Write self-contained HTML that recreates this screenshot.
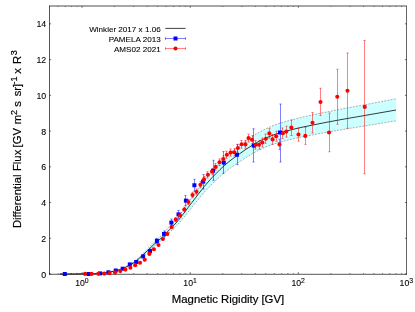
<!DOCTYPE html>
<html><head><meta charset="utf-8"><title>plot</title>
<style>html,body{margin:0;padding:0;background:#fff;}body{width:415px;height:312px;overflow:hidden;font-family:"Liberation Sans",sans-serif;}</style>
</head><body>
<svg width="415" height="312" viewBox="0 0 415 312" style="display:block">
<rect width="415" height="312" fill="#fff"/>
<defs><filter id="bg" x="0" y="0" width="415" height="312" filterUnits="userSpaceOnUse"><feGaussianBlur stdDeviation="0.22"/></filter><filter id="bt" x="0" y="0" width="415" height="312" filterUnits="userSpaceOnUse"><feGaussianBlur stdDeviation="0.15"/></filter></defs>
<g filter="url(#bg)">
<path d="M60.0,274.0 L62.0,274.0 L64.0,274.0 L66.0,274.0 L68.0,274.0 L70.0,274.0 L72.0,274.0 L74.0,274.0 L76.0,273.9 L78.0,273.9 L80.0,273.9 L82.0,273.9 L84.0,273.9 L86.0,273.9 L88.0,273.8 L90.0,273.8 L92.0,273.7 L94.0,273.6 L96.0,273.5 L98.0,273.4 L100.0,273.3 L102.0,273.1 L104.0,272.8 L106.0,272.5 L108.0,272.2 L110.0,271.9 L112.0,271.5 L114.0,271.0 L116.0,270.5 L118.0,269.9 L120.0,269.2 L122.0,268.4 L124.0,267.6 L126.0,266.6 L128.0,265.4 L130.0,264.3 L132.0,263.1 L134.0,261.8 L136.0,260.3 L138.0,258.4 L140.0,256.4 L142.0,254.5 L144.0,252.5 L146.0,250.5 L148.0,248.5 L150.0,246.4 L152.0,244.4 L154.0,242.4 L156.0,240.5 L158.0,238.6 L160.0,236.8 L162.0,235.0 L164.0,232.9 L166.0,230.6 L168.0,228.3 L170.0,226.1 L172.0,224.0 L174.0,221.8 L176.0,219.6 L178.0,217.1 L180.0,214.5 L182.0,211.8 L184.0,208.9 L186.0,206.0 L188.0,203.1 L190.0,200.3 L192.0,197.5 L194.0,194.7 L196.0,191.9 L198.0,189.2 L200.0,186.4 L202.0,183.7 L204.0,180.9 L206.0,178.3 L208.0,175.8 L210.0,173.5 L212.0,171.2 L214.0,169.0 L216.0,166.8 L218.0,164.7 L220.0,162.5 L222.0,160.5 L224.0,158.5 L226.0,156.6 L228.0,154.8 L230.0,153.1 L232.0,151.5 L234.0,149.9 L236.0,148.4 L238.0,146.8 L240.0,145.3 L242.0,143.8 L244.0,142.3 L246.0,140.9 L248.0,139.4 L250.0,138.0 L252.0,136.7 L254.0,135.4 L256.0,134.1 L258.0,132.9 L260.0,131.7 L262.0,130.7 L264.0,129.7 L266.0,128.7 L268.0,127.8 L270.0,126.9 L272.0,126.1 L274.0,125.4 L276.0,124.6 L278.0,123.9 L280.0,123.2 L282.0,122.6 L284.0,122.0 L286.0,121.4 L288.0,120.9 L290.0,120.3 L292.0,119.8 L294.0,119.3 L296.0,118.8 L298.0,118.2 L300.0,117.8 L302.0,117.3 L304.0,116.8 L306.0,116.4 L308.0,115.9 L310.0,115.5 L312.0,115.1 L314.0,114.6 L316.0,114.2 L318.0,113.8 L320.0,113.4 L322.0,112.9 L324.0,112.5 L326.0,112.1 L328.0,111.7 L330.0,111.3 L332.0,110.9 L334.0,110.5 L336.0,110.1 L338.0,109.7 L340.0,109.3 L342.0,108.9 L344.0,108.5 L346.0,108.2 L348.0,107.8 L350.0,107.4 L352.0,107.1 L354.0,106.7 L356.0,106.3 L358.0,106.0 L360.0,105.6 L362.0,105.2 L364.0,104.9 L366.0,104.5 L368.0,104.1 L370.0,103.8 L372.0,103.4 L374.0,103.0 L376.0,102.6 L378.0,102.3 L380.0,101.9 L382.0,101.5 L384.0,101.1 L386.0,100.7 L388.0,100.4 L390.0,100.0 L392.0,99.6 L394.0,99.2 L396.0,98.8 L396.0,120.8 L394.0,121.2 L392.0,121.5 L390.0,121.8 L388.0,122.2 L386.0,122.5 L384.0,122.8 L382.0,123.1 L380.0,123.5 L378.0,123.8 L376.0,124.1 L374.0,124.5 L372.0,124.8 L370.0,125.1 L368.0,125.4 L366.0,125.8 L364.0,126.1 L362.0,126.4 L360.0,126.7 L358.0,127.0 L356.0,127.4 L354.0,127.7 L352.0,128.0 L350.0,128.3 L348.0,128.6 L346.0,129.0 L344.0,129.3 L342.0,129.6 L340.0,130.0 L338.0,130.3 L336.0,130.7 L334.0,131.0 L332.0,131.4 L330.0,131.7 L328.0,132.1 L326.0,132.4 L324.0,132.8 L322.0,133.2 L320.0,133.5 L318.0,133.9 L316.0,134.3 L314.0,134.6 L312.0,135.0 L310.0,135.4 L308.0,135.8 L306.0,136.2 L304.0,136.5 L302.0,136.9 L300.0,137.4 L298.0,137.8 L296.0,138.2 L294.0,138.7 L292.0,139.1 L290.0,139.6 L288.0,140.1 L286.0,140.6 L284.0,141.0 L282.0,141.6 L280.0,142.1 L278.0,142.7 L276.0,143.4 L274.0,144.0 L272.0,144.7 L270.0,145.4 L268.0,146.1 L266.0,146.9 L264.0,147.8 L262.0,148.7 L260.0,149.6 L258.0,150.6 L256.0,151.6 L254.0,152.8 L252.0,153.9 L250.0,155.1 L248.0,156.3 L246.0,157.6 L244.0,158.8 L242.0,160.1 L240.0,161.5 L238.0,162.8 L236.0,164.1 L234.0,165.5 L232.0,166.8 L230.0,168.3 L228.0,169.7 L226.0,171.3 L224.0,173.0 L222.0,174.7 L220.0,176.5 L218.0,178.4 L216.0,180.3 L214.0,182.2 L212.0,184.1 L210.0,186.1 L208.0,188.1 L206.0,190.3 L204.0,192.6 L202.0,195.0 L200.0,197.4 L198.0,199.8 L196.0,202.2 L194.0,204.7 L192.0,207.1 L190.0,209.5 L188.0,212.0 L186.0,214.6 L184.0,217.1 L182.0,219.6 L180.0,222.0 L178.0,224.2 L176.0,226.4 L174.0,228.3 L172.0,230.2 L170.0,232.1 L168.0,234.0 L166.0,236.0 L164.0,238.0 L162.0,239.9 L160.0,241.5 L158.0,243.0 L156.0,244.7 L154.0,246.4 L152.0,248.1 L150.0,249.9 L148.0,251.7 L146.0,253.4 L144.0,255.2 L142.0,256.9 L140.0,258.6 L138.0,260.3 L136.0,262.0 L134.0,263.3 L132.0,264.4 L130.0,265.5 L128.0,266.5 L126.0,267.5 L124.0,268.4 L122.0,269.1 L120.0,269.8 L118.0,270.4 L116.0,270.9 L114.0,271.4 L112.0,271.8 L110.0,272.2 L108.0,272.5 L106.0,272.7 L104.0,273.0 L102.0,273.2 L100.0,273.3 L98.0,273.5 L96.0,273.6 L94.0,273.7 L92.0,273.8 L90.0,273.8 L88.0,273.8 L86.0,273.9 L84.0,273.9 L82.0,273.9 L80.0,273.9 L78.0,273.9 L76.0,273.9 L74.0,274.0 L72.0,274.0 L70.0,274.0 L68.0,274.0 L66.0,274.0 L64.0,274.0 L62.0,274.0 L60.0,274.0Z" fill="#ccffff" stroke="none"/>
<path d="M60.0,274.0 L62.0,274.0 L64.0,274.0 L66.0,274.0 L68.0,274.0 L70.0,274.0 L72.0,274.0 L74.0,274.0 L76.0,273.9 L78.0,273.9 L80.0,273.9 L82.0,273.9 L84.0,273.9 L86.0,273.9 L88.0,273.8 L90.0,273.8 L92.0,273.7 L94.0,273.6 L96.0,273.5 L98.0,273.4 L100.0,273.3 L102.0,273.1 L104.0,272.8 L106.0,272.5 L108.0,272.2 L110.0,271.9 L112.0,271.5 L114.0,271.0 L116.0,270.5 L118.0,269.9 L120.0,269.2 L122.0,268.4 L124.0,267.6 L126.0,266.6 L128.0,265.4 L130.0,264.3 L132.0,263.1 L134.0,261.8 L136.0,260.3 L138.0,258.4 L140.0,256.4 L142.0,254.5 L144.0,252.5 L146.0,250.5 L148.0,248.5 L150.0,246.4 L152.0,244.4 L154.0,242.4 L156.0,240.5 L158.0,238.6 L160.0,236.8 L162.0,235.0 L164.0,232.9 L166.0,230.6 L168.0,228.3 L170.0,226.1 L172.0,224.0 L174.0,221.8 L176.0,219.6 L178.0,217.1 L180.0,214.5 L182.0,211.8 L184.0,208.9 L186.0,206.0 L188.0,203.1 L190.0,200.3 L192.0,197.5 L194.0,194.7 L196.0,191.9 L198.0,189.2 L200.0,186.4 L202.0,183.7 L204.0,180.9 L206.0,178.3 L208.0,175.8 L210.0,173.5 L212.0,171.2 L214.0,169.0 L216.0,166.8 L218.0,164.7 L220.0,162.5 L222.0,160.5 L224.0,158.5 L226.0,156.6 L228.0,154.8 L230.0,153.1 L232.0,151.5 L234.0,149.9 L236.0,148.4 L238.0,146.8 L240.0,145.3 L242.0,143.8 L244.0,142.3 L246.0,140.9 L248.0,139.4 L250.0,138.0 L252.0,136.7 L254.0,135.4 L256.0,134.1 L258.0,132.9 L260.0,131.7 L262.0,130.7 L264.0,129.7 L266.0,128.7 L268.0,127.8 L270.0,126.9 L272.0,126.1 L274.0,125.4 L276.0,124.6 L278.0,123.9 L280.0,123.2 L282.0,122.6 L284.0,122.0 L286.0,121.4 L288.0,120.9 L290.0,120.3 L292.0,119.8 L294.0,119.3 L296.0,118.8 L298.0,118.2 L300.0,117.8 L302.0,117.3 L304.0,116.8 L306.0,116.4 L308.0,115.9 L310.0,115.5 L312.0,115.1 L314.0,114.6 L316.0,114.2 L318.0,113.8 L320.0,113.4 L322.0,112.9 L324.0,112.5 L326.0,112.1 L328.0,111.7 L330.0,111.3 L332.0,110.9 L334.0,110.5 L336.0,110.1 L338.0,109.7 L340.0,109.3 L342.0,108.9 L344.0,108.5 L346.0,108.2 L348.0,107.8 L350.0,107.4 L352.0,107.1 L354.0,106.7 L356.0,106.3 L358.0,106.0 L360.0,105.6 L362.0,105.2 L364.0,104.9 L366.0,104.5 L368.0,104.1 L370.0,103.8 L372.0,103.4 L374.0,103.0 L376.0,102.6 L378.0,102.3 L380.0,101.9 L382.0,101.5 L384.0,101.1 L386.0,100.7 L388.0,100.4 L390.0,100.0 L392.0,99.6 L394.0,99.2 L396.0,98.8" fill="none" stroke="#6a6a6a" stroke-width="0.55" stroke-dasharray="1.9,1.3"/>
<path d="M60.0,274.0 L62.0,274.0 L64.0,274.0 L66.0,274.0 L68.0,274.0 L70.0,274.0 L72.0,274.0 L74.0,274.0 L76.0,273.9 L78.0,273.9 L80.0,273.9 L82.0,273.9 L84.0,273.9 L86.0,273.9 L88.0,273.8 L90.0,273.8 L92.0,273.8 L94.0,273.7 L96.0,273.6 L98.0,273.5 L100.0,273.3 L102.0,273.2 L104.0,273.0 L106.0,272.7 L108.0,272.5 L110.0,272.2 L112.0,271.8 L114.0,271.4 L116.0,270.9 L118.0,270.4 L120.0,269.8 L122.0,269.1 L124.0,268.4 L126.0,267.5 L128.0,266.5 L130.0,265.5 L132.0,264.4 L134.0,263.3 L136.0,262.0 L138.0,260.3 L140.0,258.6 L142.0,256.9 L144.0,255.2 L146.0,253.4 L148.0,251.7 L150.0,249.9 L152.0,248.1 L154.0,246.4 L156.0,244.7 L158.0,243.0 L160.0,241.5 L162.0,239.9 L164.0,238.0 L166.0,236.0 L168.0,234.0 L170.0,232.1 L172.0,230.2 L174.0,228.3 L176.0,226.4 L178.0,224.2 L180.0,222.0 L182.0,219.6 L184.0,217.1 L186.0,214.6 L188.0,212.0 L190.0,209.5 L192.0,207.1 L194.0,204.7 L196.0,202.2 L198.0,199.8 L200.0,197.4 L202.0,195.0 L204.0,192.6 L206.0,190.3 L208.0,188.1 L210.0,186.1 L212.0,184.1 L214.0,182.2 L216.0,180.3 L218.0,178.4 L220.0,176.5 L222.0,174.7 L224.0,173.0 L226.0,171.3 L228.0,169.7 L230.0,168.3 L232.0,166.8 L234.0,165.5 L236.0,164.1 L238.0,162.8 L240.0,161.5 L242.0,160.1 L244.0,158.8 L246.0,157.6 L248.0,156.3 L250.0,155.1 L252.0,153.9 L254.0,152.8 L256.0,151.6 L258.0,150.6 L260.0,149.6 L262.0,148.7 L264.0,147.8 L266.0,146.9 L268.0,146.1 L270.0,145.4 L272.0,144.7 L274.0,144.0 L276.0,143.4 L278.0,142.7 L280.0,142.1 L282.0,141.6 L284.0,141.0 L286.0,140.6 L288.0,140.1 L290.0,139.6 L292.0,139.1 L294.0,138.7 L296.0,138.2 L298.0,137.8 L300.0,137.4 L302.0,136.9 L304.0,136.5 L306.0,136.2 L308.0,135.8 L310.0,135.4 L312.0,135.0 L314.0,134.6 L316.0,134.3 L318.0,133.9 L320.0,133.5 L322.0,133.2 L324.0,132.8 L326.0,132.4 L328.0,132.1 L330.0,131.7 L332.0,131.4 L334.0,131.0 L336.0,130.7 L338.0,130.3 L340.0,130.0 L342.0,129.6 L344.0,129.3 L346.0,129.0 L348.0,128.6 L350.0,128.3 L352.0,128.0 L354.0,127.7 L356.0,127.4 L358.0,127.0 L360.0,126.7 L362.0,126.4 L364.0,126.1 L366.0,125.8 L368.0,125.4 L370.0,125.1 L372.0,124.8 L374.0,124.5 L376.0,124.1 L378.0,123.8 L380.0,123.5 L382.0,123.1 L384.0,122.8 L386.0,122.5 L388.0,122.2 L390.0,121.8 L392.0,121.5 L394.0,121.2 L396.0,120.8" fill="none" stroke="#6a6a6a" stroke-width="0.55" stroke-dasharray="1.9,1.3"/>
<path d="M396,98.8 L396,120.8" fill="none" stroke="#ccffff" stroke-width="0.5"/>
<path d="M49.5,5.6V274.7 M49.1,274.3H406.9" fill="none" stroke="#2a2a2a" stroke-width="0.8"/>
<path d="M49.5,6.0H406.9" fill="none" stroke="#333" stroke-width="0.85"/>
<path d="M406.5,6.0V274.7" fill="none" stroke="#4a4a4a" stroke-width="0.85"/>
<path d="M49.5,274.00h1.6 M406.5,274.00h-1.6 M49.5,238.27h1.6 M406.5,238.27h-1.6 M49.5,202.53h1.6 M406.5,202.53h-1.6 M49.5,166.80h1.6 M406.5,166.80h-1.6 M49.5,131.07h1.6 M406.5,131.07h-1.6 M49.5,95.33h1.6 M406.5,95.33h-1.6 M49.5,59.60h1.6 M406.5,59.60h-1.6 M49.5,23.87h1.6 M406.5,23.87h-1.6 M49.50,274.0v-0.8 M49.50,6.0v0.8 M58.06,274.0v-0.8 M58.06,6.0v0.8 M65.30,274.0v-0.8 M65.30,6.0v0.8 M71.58,274.0v-0.8 M71.58,6.0v0.8 M77.11,274.0v-0.8 M77.11,6.0v0.8 M82.06,274.0v-1.8 M82.06,6.0v1.8 M114.61,274.0v-0.8 M114.61,6.0v0.8 M133.66,274.0v-0.8 M133.66,6.0v0.8 M147.17,274.0v-0.8 M147.17,6.0v0.8 M157.65,274.0v-0.8 M157.65,6.0v0.8 M166.21,274.0v-0.8 M166.21,6.0v0.8 M173.45,274.0v-0.8 M173.45,6.0v0.8 M179.72,274.0v-0.8 M179.72,6.0v0.8 M185.26,274.0v-0.8 M185.26,6.0v0.8 M190.20,274.0v-1.8 M190.20,6.0v1.8 M222.76,274.0v-0.8 M222.76,6.0v0.8 M241.80,274.0v-0.8 M241.80,6.0v0.8 M255.32,274.0v-0.8 M255.32,6.0v0.8 M265.80,274.0v-0.8 M265.80,6.0v0.8 M274.36,274.0v-0.8 M274.36,6.0v0.8 M281.60,274.0v-0.8 M281.60,6.0v0.8 M287.87,274.0v-0.8 M287.87,6.0v0.8 M293.40,274.0v-0.8 M293.40,6.0v0.8 M298.35,274.0v-1.8 M298.35,6.0v1.8 M330.91,274.0v-0.8 M330.91,6.0v0.8 M349.95,274.0v-0.8 M349.95,6.0v0.8 M363.46,274.0v-0.8 M363.46,6.0v0.8 M373.94,274.0v-0.8 M373.94,6.0v0.8 M382.51,274.0v-0.8 M382.51,6.0v0.8 M389.75,274.0v-0.8 M389.75,6.0v0.8 M396.02,274.0v-0.8 M396.02,6.0v0.8 M401.55,274.0v-0.8 M401.55,6.0v0.8" stroke="#000" stroke-width="0.55" fill="none"/>
<path d="M60.0,274.0 L62.0,274.0 L64.0,274.0 L66.0,274.0 L68.0,274.0 L70.0,274.0 L72.0,274.0 L74.0,274.0 L76.0,273.9 L78.0,273.9 L80.0,273.9 L82.0,273.9 L84.0,273.9 L86.0,273.9 L88.0,273.8 L90.0,273.8 L92.0,273.7 L94.0,273.7 L96.0,273.6 L98.0,273.4 L100.0,273.3 L102.0,273.1 L104.0,272.9 L106.0,272.6 L108.0,272.3 L110.0,272.0 L112.0,271.6 L114.0,271.2 L116.0,270.7 L118.0,270.2 L120.0,269.5 L122.0,268.8 L124.0,268.0 L126.0,267.0 L128.0,266.0 L130.0,264.9 L132.0,263.8 L134.0,262.5 L136.0,261.2 L138.0,259.4 L140.0,257.5 L142.0,255.7 L144.0,253.9 L146.0,252.0 L148.0,250.1 L150.0,248.2 L152.0,246.3 L154.0,244.4 L156.0,242.6 L158.0,240.8 L160.0,239.2 L162.0,237.4 L164.0,235.5 L166.0,233.3 L168.0,231.2 L170.0,229.2 L172.0,227.1 L174.0,225.1 L176.0,223.0 L178.0,220.7 L180.0,218.3 L182.0,215.7 L184.0,213.1 L186.0,210.3 L188.0,207.6 L190.0,205.0 L192.0,202.4 L194.0,199.8 L196.0,197.2 L198.0,194.6 L200.0,192.0 L202.0,189.4 L204.0,186.8 L206.0,184.4 L208.0,182.1 L210.0,179.9 L212.0,177.7 L214.0,175.7 L216.0,173.6 L218.0,171.6 L220.0,169.6 L222.0,167.7 L224.0,165.8 L226.0,164.1 L228.0,162.4 L230.0,160.8 L232.0,159.3 L234.0,157.8 L236.0,156.4 L238.0,154.9 L240.0,153.5 L242.0,152.1 L244.0,150.7 L246.0,149.3 L248.0,148.0 L250.0,146.7 L252.0,145.4 L254.0,144.2 L256.0,143.0 L258.0,141.9 L260.0,140.8 L262.0,139.8 L264.0,138.9 L266.0,138.0 L268.0,137.1 L270.0,136.3 L272.0,135.5 L274.0,134.8 L276.0,134.1 L278.0,133.4 L280.0,132.8 L282.0,132.2 L284.0,131.7 L286.0,131.1 L288.0,130.6 L290.0,130.1 L292.0,129.6 L294.0,129.1 L296.0,128.6 L298.0,128.2 L300.0,127.7 L302.0,127.3 L304.0,126.8 L306.0,126.4 L308.0,126.0 L310.0,125.6 L312.0,125.2 L314.0,124.8 L316.0,124.4 L318.0,124.0 L320.0,123.6 L322.0,123.2 L324.0,122.8 L326.0,122.4 L328.0,122.0 L330.0,121.7 L332.0,121.3 L334.0,120.9 L336.0,120.5 L338.0,120.2 L340.0,119.8 L342.0,119.4 L344.0,119.1 L346.0,118.7 L348.0,118.4 L350.0,118.0 L352.0,117.7 L354.0,117.3 L356.0,117.0 L358.0,116.7 L360.0,116.3 L362.0,116.0 L364.0,115.6 L366.0,115.3 L368.0,114.9 L370.0,114.6 L372.0,114.2 L374.0,113.9 L376.0,113.5 L378.0,113.2 L380.0,112.8 L382.0,112.5 L384.0,112.1 L386.0,111.8 L388.0,111.4 L390.0,111.1 L392.0,110.7 L394.0,110.4 L396.0,110.0" fill="none" stroke="#0a0a0a" stroke-width="0.8"/>
<path d="M122.5,267.70V269.70 M121.4,267.70h2.2 M121.4,269.70h2.2 M129.5,263.40V265.40 M128.4,263.40h2.2 M128.4,265.40h2.2 M136.5,260.70V263.10 M135.4,260.70h2.2 M135.4,263.10h2.2 M143.5,254.90V257.90 M142.4,254.90h2.2 M142.4,257.90h2.2 M150.5,249.10V253.10 M149.4,249.10h2.2 M149.4,253.10h2.2 M156.5,238.40V243.40 M155.4,238.40h2.2 M155.4,243.40h2.2 M164.5,230.90V236.90 M163.4,230.90h2.2 M163.4,236.90h2.2 M171.5,219.10V226.10 M170.4,219.10h2.2 M170.4,226.10h2.2 M178.5,210.40V218.40 M177.4,210.40h2.2 M177.4,218.40h2.2 M185.5,195.60V205.60 M184.4,195.60h2.2 M184.4,205.60h2.2 M194.5,179.25V191.25 M193.4,179.25h2.2 M193.4,191.25h2.2 M203.5,174.60V189.10 M202.4,174.60h2.2 M202.4,189.10h2.2 M213.5,160.30V180.30 M212.4,160.30h2.2 M212.4,180.30h2.2 M223.5,151.60V173.30 M222.4,151.60h2.2 M222.4,173.30h2.2 M237.5,144.55V164.55 M236.4,144.55h2.2 M236.4,164.55h2.2 M253.5,128.80V162.00 M252.4,128.80h2.2 M252.4,162.00h2.2 M280.5,104.00V162.00 M279.4,104.00h2.2 M279.4,162.00h2.2" stroke="#0000ff" stroke-width="0.5" fill="none"/>
<path d="M167.5,232.40V235.60 M166.4,232.40h2.2 M166.4,235.60h2.2 M171.5,225.21V228.79 M170.4,225.21h2.2 M170.4,228.79h2.2 M175.5,217.64V221.56 M174.4,217.64h2.2 M174.4,221.56h2.2 M180.5,213.11V217.39 M179.4,213.11h2.2 M179.4,217.39h2.2 M184.5,207.17V211.83 M183.4,207.17h2.2 M183.4,211.83h2.2 M188.5,199.50V204.50 M187.4,199.50h2.2 M187.4,204.50h2.2 M192.5,192.32V197.68 M191.4,192.32h2.2 M191.4,197.68h2.2 M196.5,188.95V194.65 M195.4,188.95h2.2 M195.4,194.65h2.2 M200.5,181.69V187.71 M199.4,181.69h2.2 M199.4,187.71h2.2 M204.5,176.32V182.48 M203.4,176.32h2.2 M203.4,182.48h2.2 M207.5,171.64V177.96 M206.4,171.64h2.2 M206.4,177.96h2.2 M212.5,168.36V174.84 M211.4,168.36h2.2 M211.4,174.84h2.2 M215.5,163.59V170.22 M214.4,163.59h2.2 M214.4,170.22h2.2 M219.5,158.86V165.64 M218.4,158.86h2.2 M218.4,165.64h2.2 M223.5,155.63V162.56 M222.4,155.63h2.2 M222.4,162.56h2.2 M226.5,151.21V158.29 M225.4,151.21h2.2 M225.4,158.29h2.2 M230.5,148.99V156.21 M229.4,148.99h2.2 M229.4,156.21h2.2 M234.5,148.57V155.93 M233.4,148.57h2.2 M233.4,155.93h2.2 M237.5,144.24V151.76 M236.4,144.24h2.2 M236.4,151.76h2.2 M241.5,140.47V148.13 M240.4,140.47h2.2 M240.4,148.13h2.2 M245.5,140.49V148.31 M244.4,140.49h2.2 M244.4,148.31h2.2 M248.5,134.13V142.07 M247.4,134.13h2.2 M247.4,142.07h2.2 M252.5,135.67V143.83 M251.4,135.67h2.2 M251.4,143.83h2.2 M255.5,140.56V149.04 M254.4,140.56h2.2 M254.4,149.04h2.2 M259.5,140.44V149.16 M258.4,140.44h2.2 M258.4,149.16h2.2 M262.5,138.00V147.00 M261.4,138.00h2.2 M261.4,147.00h2.2 M265.5,134.06V143.34 M264.4,134.06h2.2 M264.4,143.34h2.2 M269.5,128.62V138.18 M268.4,128.62h2.2 M268.4,138.18h2.2 M272.5,134.48V144.32 M271.4,134.48h2.2 M271.4,144.32h2.2 M276.5,131.14V141.26 M275.4,131.14h2.2 M275.4,141.26h2.2 M279.5,139.20V149.60 M278.4,139.20h2.2 M278.4,149.60h2.2 M282.5,127.97V138.63 M281.4,127.97h2.2 M281.4,138.63h2.2 M286.5,126.13V137.07 M285.4,126.13h2.2 M285.4,137.07h2.2 M291.5,120.00V135.50 M290.4,120.00h2.2 M290.4,135.50h2.2 M298.5,128.00V141.25 M297.4,128.00h2.2 M297.4,141.25h2.2 M305.5,127.50V144.40 M304.4,127.50h2.2 M304.4,144.40h2.2 M312.5,112.50V133.00 M311.4,112.50h2.2 M311.4,133.00h2.2 M320.5,88.25V115.60 M319.4,88.25h2.2 M319.4,115.60h2.2 M329.5,113.00V151.75 M328.4,113.00h2.2 M328.4,151.75h2.2 M337.5,69.25V124.25 M336.4,69.25h2.2 M336.4,124.25h2.2 M347.5,53.00V128.40 M346.4,53.00h2.2 M346.4,128.40h2.2 M364.5,40.50V173.75 M363.4,40.50h2.2 M363.4,173.75h2.2" stroke="#ff0000" stroke-width="0.5" fill="none"/>
<rect x="62.75" y="272.00" width="4" height="4" fill="#0000ff"/>
<rect x="86.50" y="272.00" width="4" height="4" fill="#0000ff"/>
<rect x="98.00" y="271.40" width="4" height="4" fill="#0000ff"/>
<rect x="106.40" y="270.30" width="4" height="4" fill="#0000ff"/>
<rect x="113.75" y="268.50" width="4" height="4" fill="#0000ff"/>
<rect x="120.70" y="266.70" width="4" height="4" fill="#0000ff"/>
<rect x="127.80" y="262.40" width="4" height="4" fill="#0000ff"/>
<rect x="134.25" y="259.90" width="4" height="4" fill="#0000ff"/>
<rect x="141.15" y="254.40" width="4" height="4" fill="#0000ff"/>
<rect x="148.00" y="249.10" width="4" height="4" fill="#0000ff"/>
<rect x="154.90" y="238.90" width="4" height="4" fill="#0000ff"/>
<rect x="162.05" y="231.90" width="4" height="4" fill="#0000ff"/>
<rect x="169.35" y="220.60" width="4" height="4" fill="#0000ff"/>
<rect x="176.50" y="212.40" width="4" height="4" fill="#0000ff"/>
<rect x="183.90" y="198.60" width="4" height="4" fill="#0000ff"/>
<rect x="192.40" y="183.25" width="4" height="4" fill="#0000ff"/>
<rect x="201.10" y="179.60" width="4" height="4" fill="#0000ff"/>
<rect x="211.00" y="168.80" width="4" height="4" fill="#0000ff"/>
<rect x="221.75" y="160.60" width="4" height="4" fill="#0000ff"/>
<rect x="235.00" y="152.75" width="4" height="4" fill="#0000ff"/>
<rect x="251.75" y="143.60" width="4" height="4" fill="#0000ff"/>
<rect x="278.00" y="130.50" width="4" height="4" fill="#0000ff"/>
<circle cx="85" cy="273.9" r="2.05" fill="#ff0000"/>
<circle cx="91.6" cy="273.9" r="2.05" fill="#ff0000"/>
<circle cx="98.25" cy="273.8" r="2.05" fill="#ff0000"/>
<circle cx="104.2" cy="273.6" r="2.05" fill="#ff0000"/>
<circle cx="109.6" cy="273.1" r="2.05" fill="#ff0000"/>
<circle cx="115" cy="272.4" r="2.05" fill="#ff0000"/>
<circle cx="120.3" cy="271.1" r="2.05" fill="#ff0000"/>
<circle cx="125.4" cy="269.6" r="2.05" fill="#ff0000"/>
<circle cx="130.4" cy="267.8" r="2.05" fill="#ff0000"/>
<circle cx="135.2" cy="265.3" r="2.05" fill="#ff0000"/>
<circle cx="140" cy="262.8" r="2.05" fill="#ff0000"/>
<circle cx="144.75" cy="259.75" r="2.05" fill="#ff0000"/>
<circle cx="149.35" cy="253.9" r="2.05" fill="#ff0000"/>
<circle cx="153.95" cy="249.3" r="2.05" fill="#ff0000"/>
<circle cx="158.5" cy="245" r="2.05" fill="#ff0000"/>
<circle cx="162.9" cy="239" r="2.05" fill="#ff0000"/>
<circle cx="167.25" cy="234" r="2.05" fill="#ff0000"/>
<circle cx="171.7" cy="227" r="2.05" fill="#ff0000"/>
<circle cx="175.8" cy="219.6" r="2.05" fill="#ff0000"/>
<circle cx="180" cy="215.25" r="2.05" fill="#ff0000"/>
<circle cx="184.3" cy="209.5" r="2.05" fill="#ff0000"/>
<circle cx="188.4" cy="202" r="2.05" fill="#ff0000"/>
<circle cx="192.5" cy="195" r="2.05" fill="#ff0000"/>
<circle cx="196.5" cy="191.8" r="2.05" fill="#ff0000"/>
<circle cx="200.4" cy="184.7" r="2.05" fill="#ff0000"/>
<circle cx="204" cy="179.4" r="2.05" fill="#ff0000"/>
<circle cx="207.9" cy="174.8" r="2.05" fill="#ff0000"/>
<circle cx="212" cy="171.6" r="2.05" fill="#ff0000"/>
<circle cx="215.75" cy="166.9" r="2.05" fill="#ff0000"/>
<circle cx="219.5" cy="162.25" r="2.05" fill="#ff0000"/>
<circle cx="223.25" cy="159.1" r="2.05" fill="#ff0000"/>
<circle cx="226.9" cy="154.75" r="2.05" fill="#ff0000"/>
<circle cx="230.6" cy="152.6" r="2.05" fill="#ff0000"/>
<circle cx="234.1" cy="152.25" r="2.05" fill="#ff0000"/>
<circle cx="237.9" cy="148" r="2.05" fill="#ff0000"/>
<circle cx="241.6" cy="144.3" r="2.05" fill="#ff0000"/>
<circle cx="245.4" cy="144.4" r="2.05" fill="#ff0000"/>
<circle cx="248.5" cy="138.1" r="2.05" fill="#ff0000"/>
<circle cx="252" cy="139.75" r="2.05" fill="#ff0000"/>
<circle cx="255.8" cy="144.8" r="2.05" fill="#ff0000"/>
<circle cx="259" cy="144.8" r="2.05" fill="#ff0000"/>
<circle cx="262.25" cy="142.5" r="2.05" fill="#ff0000"/>
<circle cx="265.9" cy="138.7" r="2.05" fill="#ff0000"/>
<circle cx="269.3" cy="133.4" r="2.05" fill="#ff0000"/>
<circle cx="272.6" cy="139.4" r="2.05" fill="#ff0000"/>
<circle cx="276.15" cy="136.2" r="2.05" fill="#ff0000"/>
<circle cx="279.5" cy="144.4" r="2.05" fill="#ff0000"/>
<circle cx="282.9" cy="133.3" r="2.05" fill="#ff0000"/>
<circle cx="286.3" cy="131.6" r="2.05" fill="#ff0000"/>
<circle cx="291.35" cy="127.45" r="2.05" fill="#ff0000"/>
<circle cx="298.45" cy="134.55" r="2.05" fill="#ff0000"/>
<circle cx="305.3" cy="135.9" r="2.05" fill="#ff0000"/>
<circle cx="312.5" cy="122.75" r="2.05" fill="#ff0000"/>
<circle cx="320.5" cy="102" r="2.05" fill="#ff0000"/>
<circle cx="329" cy="132.5" r="2.05" fill="#ff0000"/>
<circle cx="337.25" cy="96.75" r="2.05" fill="#ff0000"/>
<circle cx="347.5" cy="90.75" r="2.05" fill="#ff0000"/>
<circle cx="364.75" cy="106.9" r="2.05" fill="#ff0000"/>
<path d="M165.3,28.4H185.6" stroke="#0a0a0a" stroke-width="0.8"/>
<path d="M165.3,38.5H185.6 M165.5,37.2v2.6 M185.5,37.2v2.6" stroke="#0000ff" stroke-width="0.5"/>
<rect x="173.5" y="36.5" width="4" height="4" fill="#0000ff"/>
<path d="M165.3,48.5H185.6 M165.5,47.2v2.6 M185.5,47.2v2.6" stroke="#ff0000" stroke-width="0.5"/>
<circle cx="175.5" cy="48.5" r="2.05" fill="#ff0000"/>
</g>
<g filter="url(#bt)" font-family="'Liberation Sans', sans-serif" fill="#000" stroke="#000" stroke-width="0.2">
<g font-size="8.1px" text-anchor="end" stroke-width="0.08">
<text x="160.7" y="31.5">Winkler 2017 x 1.06</text>
<text x="160.7" y="41.5">PAMELA 2013</text>
<text x="160.7" y="51.5">AMS02 2021</text>
</g>
<g font-size="8.8px" text-anchor="end" stroke-width="0.1">
<text x="46.2" y="277.50">0</text>
<text x="46.2" y="241.77">2</text>
<text x="46.2" y="206.03">4</text>
<text x="46.2" y="170.30">6</text>
<text x="46.2" y="134.57">8</text>
<text x="46.2" y="98.83">10</text>
<text x="46.2" y="63.10">12</text>
<text x="46.2" y="27.37">14</text>
</g>
<g font-size="8.7px" stroke-width="0.1">
<text x="75.16" y="285.9">10<tspan font-size="6.9px" dy="-2.8">0</tspan></text>
<text x="183.30" y="285.9">10<tspan font-size="6.9px" dy="-2.8">1</tspan></text>
<text x="291.45" y="285.9">10<tspan font-size="6.9px" dy="-2.8">2</tspan></text>
<text x="399.60" y="285.9">10<tspan font-size="6.9px" dy="-2.8">3</tspan></text>
</g>
<text x="228.0" y="303.1" font-size="11.36px" text-anchor="middle">Magnetic Rigidity [GV]</text>
<text transform="translate(21,228.10) rotate(-90)" font-size="11.25px">Differential</text>
<text transform="translate(21,171.00) rotate(-90)" font-size="11.25px">Flux</text>
<text transform="translate(21,147.50) rotate(-90)" font-size="11.25px">[GV</text>
<text transform="translate(21,124.30) rotate(-90)" font-size="11.25px">m</text>
<text transform="translate(17.1,115.00) rotate(-90)" font-size="9px">2</text>
<text transform="translate(21,106.75) rotate(-90)" font-size="11.25px">s</text>
<text transform="translate(21,96.35) rotate(-90)" font-size="11.25px">sr]</text>
<text transform="translate(17.1,84.50) rotate(-90)" font-size="9px">-1</text>
<text transform="translate(21,73.75) rotate(-90)" font-size="11.25px">x</text>
<text transform="translate(21,64.10) rotate(-90)" font-size="11.25px">R</text>
<text transform="translate(17.1,55.15) rotate(-90)" font-size="9px">3</text>
</g></svg>
</body></html>
